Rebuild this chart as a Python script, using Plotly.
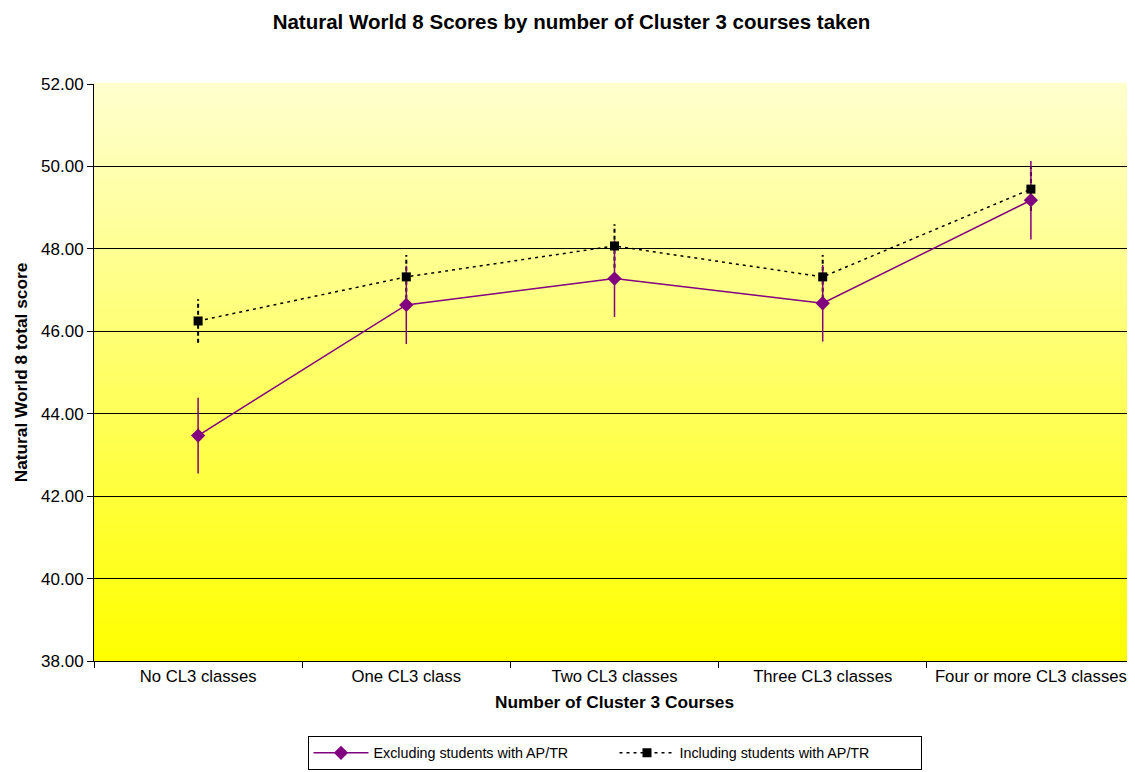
import plotly.graph_objects as go

categories = ["No CL3 classes", "One CL3 class", "Two CL3 classes", "Three CL3 classes", "Four or more CL3 classes"]
excl_values = [43.47, 46.64, 47.28, 46.68, 49.18]
excl_errors = [0.92, 0.95, 0.93, 0.93, 0.95]
incl_values = [46.25, 47.32, 48.07, 47.32, 49.45]
incl_errors = [0.53, 0.53, 0.53, 0.53, 0.53]
y_ticks = [38, 40, 42, 44, 46, 48, 50, 52]

fig = go.Figure()

# dashed error bars for the "including" series, built from the data
ex, ey = [], []
for c, v, e in zip(categories, incl_values, incl_errors):
    ex += [c, c, None]
    ey += [v - e, v + e, None]
fig.add_trace(go.Scatter(x=ex, y=ey, mode="lines", line=dict(color="black", width=2, dash="4px,3px"),
                         showlegend=False, hoverinfo="skip"))

fig.add_trace(go.Scatter(
    x=categories, y=excl_values, name="Excluding students with AP/TR",
    mode="lines+markers",
    line=dict(color="#800080", width=1.5),
    marker=dict(symbol="diamond", size=11, color="#800080"),
    error_y=dict(type="data", array=excl_errors, color="#800080", thickness=1.5, width=0),
))
fig.add_trace(go.Scatter(
    x=categories, y=incl_values, name="Including students with AP/TR",
    mode="lines+markers",
    line=dict(color="black", width=1.5, dash="3px,4px"),
    marker=dict(symbol="square", size=9, color="black"),
))

# gradient background
n = 80
top = (255, 255, 206)
bot = (255, 255, 0)
for i in range(n):
    t = i / (n - 1)
    r = round(bot[0] + (top[0] - bot[0]) * t)
    g = round(bot[1] + (top[1] - bot[1]) * t)
    b = round(bot[2] + (top[2] - bot[2]) * t)
    fig.add_shape(type="rect", xref="x domain", yref="y domain",
                  x0=0, x1=1, y0=i / n, y1=(i + 1) / n + 0.002,
                  fillcolor=f"rgb({r},{g},{b})", line=dict(width=0), layer="below")

fig.update_layout(
    width=1127, height=764,
    margin=dict(l=86, r=0, t=76, b=111, autoexpand=False),
    paper_bgcolor="white", plot_bgcolor="rgba(0,0,0,0)",
    font=dict(family="Liberation Sans, Arial, sans-serif", size=16, color="black"),
    title=dict(text="<b>Natural World 8 Scores by number of Cluster 3 courses taken</b>",
               x=0.5, xanchor="center", y=0.982, yanchor="middle", font=dict(size=20.5)),
    xaxis=dict(
        type="category", tickson="boundaries", ticks="outside", ticklen=6, tickcolor="black",
        showline=True, linecolor="black", linewidth=1, showgrid=False, automargin=False,
        tickfont=dict(size=16.7),
        title=dict(text="<b>Number of Cluster 3 Courses</b>", standoff=10, font=dict(size=17.3)),
        range=[-0.5, 4.5],
    ),
    yaxis=dict(
        range=[38, 52], tickvals=y_ticks, ticktext=[f"{v:.2f}" for v in y_ticks],
        ticks="outside", ticklen=6, tickcolor="black", tickfont=dict(size=17), automargin=False,
        showline=True, linecolor="black", linewidth=1,
        showgrid=True, gridcolor="black", gridwidth=1, zeroline=False,
        title=dict(text="<b>Natural World 8 total score</b>", standoff=8, font=dict(size=17.3)),
    ),
    legend=dict(orientation="h", x=0.5, xanchor="center", y=-0.130, yanchor="top",
                bordercolor="black", borderwidth=1, bgcolor="white",
                itemwidth=55, entrywidth=236, font=dict(size=14.3), tracegroupgap=0),
    showlegend=True,
)

fig.write_html("out.html")
